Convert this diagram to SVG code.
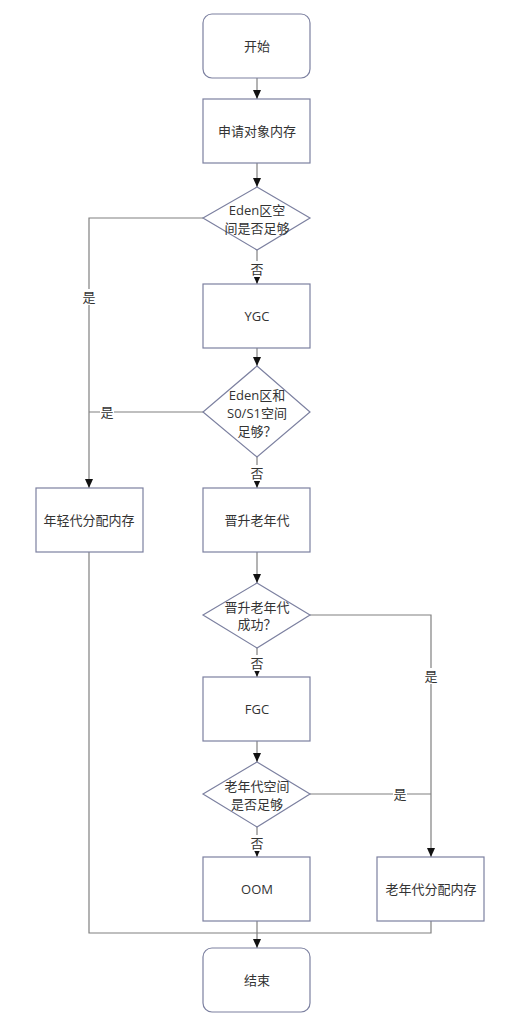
<svg xmlns="http://www.w3.org/2000/svg" width="512" height="1024" viewBox="0 0 512 1024">
<style>
.n{fill:#ffffff;stroke:#7c80a0;stroke-width:1.2}
.t{font-family:"Open Sans","Noto Sans CJK SC",sans-serif;font-size:13px;fill:#333333;text-anchor:middle;dominant-baseline:central}
.c{fill:none;stroke:#808080;stroke-width:1.2}
.lb{fill:#ffffff}
</style>
<defs>
<marker id="ah" markerWidth="10" markerHeight="10" refX="9" refY="5" orient="auto" markerUnits="userSpaceOnUse">
<path d="M0,1 L9,5 L0,9 Z" fill="#111111"/>
</marker>
</defs>
<rect width="512" height="1024" fill="#ffffff"/>
<g id="connectors">
<path class="c" d="M257,78 V99" marker-end="url(#ah)"/>
<path class="c" d="M257,163 V187" marker-end="url(#ah)"/>
<path class="c" d="M257,250 V284" marker-end="url(#ah)"/>
<path class="c" d="M203,218 H89 V488" marker-end="url(#ah)"/>
<path class="c" d="M257,348 V366" marker-end="url(#ah)"/>
<path class="c" d="M203,412 H89"/>
<path class="c" d="M257,457 V488" marker-end="url(#ah)"/>
<path class="c" d="M257,552 V583" marker-end="url(#ah)"/>
<path class="c" d="M310,615 H431 V857" marker-end="url(#ah)"/>
<path class="c" d="M257,648 V677" marker-end="url(#ah)"/>
<path class="c" d="M257,741 V762" marker-end="url(#ah)"/>
<path class="c" d="M310,794 H431"/>
<path class="c" d="M257,827 V857" marker-end="url(#ah)"/>
<path class="c" d="M257,921 V948" marker-end="url(#ah)"/>
<path class="c" d="M89,552 V933 H431 V921"/>
<rect class="lb" x="250" y="261" width="14" height="16"/>
<text class="t" x="257" y="269">否</text>
<rect class="lb" x="82" y="289" width="14" height="16"/>
<text class="t" x="89" y="297">是</text>
<rect class="lb" x="100" y="404" width="14" height="16"/>
<text class="t" x="107" y="412">是</text>
<rect class="lb" x="250" y="465" width="14" height="16"/>
<text class="t" x="257" y="473">否</text>
<rect class="lb" x="250" y="655" width="14" height="16"/>
<text class="t" x="257" y="663">否</text>
<rect class="lb" x="424" y="668" width="14" height="16"/>
<text class="t" x="431" y="676">是</text>
<rect class="lb" x="393" y="786" width="14" height="16"/>
<text class="t" x="400" y="794">是</text>
<rect class="lb" x="250" y="835" width="14" height="16"/>
<text class="t" x="257" y="843">否</text>
</g>
<g id="start">
<rect class="n" x="203" y="14" width="107" height="64" rx="9"/>
<text class="t" x="257" y="46">开始</text>
</g>
<g id="alloc">
<rect class="n" x="203" y="99" width="107" height="64"/>
<text class="t" x="257" y="131">申请对象内存</text>
</g>
<g id="eden-check">
<polygon class="n" points="257,187 310,218 257,250 203,218"/>
<text class="t" x="257" y="210">Eden区空</text>
<text class="t" x="257" y="228">间是否足够</text>
</g>
<g id="ygc">
<rect class="n" x="203" y="284" width="107" height="64"/>
<text class="t" x="257" y="316">YGC</text>
</g>
<g id="survivor-check">
<polygon class="n" points="257,366 310,412 257,457 203,412"/>
<text class="t" x="257" y="395">Eden区和</text>
<text class="t" x="257" y="413">S0/S1空间</text>
<text class="t" x="257" y="431">足够？</text>
</g>
<g id="young-alloc">
<rect class="n" x="36" y="488" width="107" height="64"/>
<text class="t" x="89" y="520">年轻代分配内存</text>
</g>
<g id="promote">
<rect class="n" x="203" y="488" width="107" height="64"/>
<text class="t" x="257" y="520">晋升老年代</text>
</g>
<g id="promote-check">
<polygon class="n" points="257,583 310,615 257,648 203,615"/>
<text class="t" x="257" y="607">晋升老年代</text>
<text class="t" x="257" y="624">成功？</text>
</g>
<g id="fgc">
<rect class="n" x="203" y="677" width="107" height="64"/>
<text class="t" x="257" y="709">FGC</text>
</g>
<g id="old-check">
<polygon class="n" points="257,762 310,794 257,827 203,794"/>
<text class="t" x="257" y="786">老年代空间</text>
<text class="t" x="257" y="804">是否足够</text>
</g>
<g id="oom">
<rect class="n" x="203" y="857" width="107" height="64"/>
<text class="t" x="257" y="889">OOM</text>
</g>
<g id="old-alloc">
<rect class="n" x="377" y="857" width="107" height="64"/>
<text class="t" x="431" y="889">老年代分配内存</text>
</g>
<g id="end">
<rect class="n" x="203" y="948" width="107" height="64" rx="9"/>
<text class="t" x="257" y="980">结束</text>
</g>
</svg>
